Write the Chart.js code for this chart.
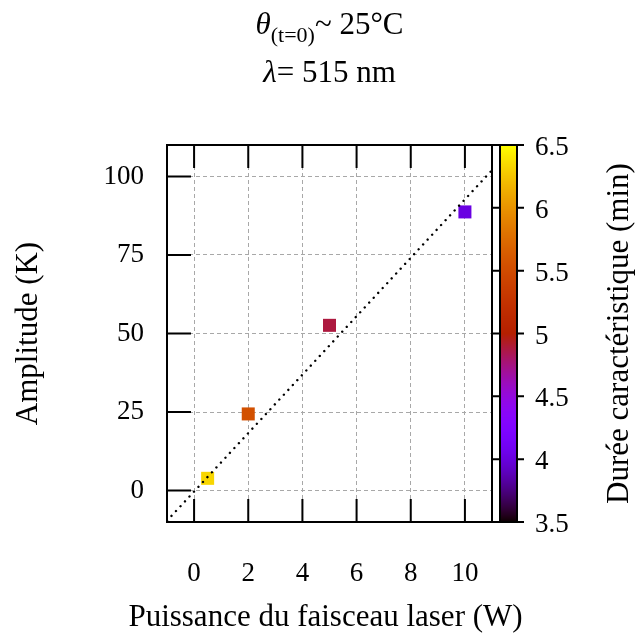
<!DOCTYPE html>
<html><head><meta charset="utf-8">
<script src="https://cdn.jsdelivr.net/npm/chart.js@4/dist/chart.umd.min.js"></script>
<style>html,body{margin:0;padding:0;background:#fff}canvas{display:block}</style>
</head><body>
<canvas id="c" width="635" height="636"></canvas>
<script>
// ---- data ----
const power = [0.5, 2, 5, 10];                 // W
const amplitude = [3.9, 24.4, 52.6, 88.7];     // K
const duration = [6.33, 5.54, 4.88, 4.02];     // min (colour)
const fitX = [-1, 11];
const fitY = [-9.6, 102.0];
const xTicks = [0, 2, 4, 6, 8, 10];
const yTicks = [0, 25, 50, 75, 100];
const cbTicks = [3.5, 4, 4.5, 5, 5.5, 6, 6.5];
const cbRange = [3.5, 6.5];
const xRange = [-1, 11];
const yRange = [-10, 110];
const xTitle = 'Puissance du faisceau laser (W)';
const yTitle = 'Amplitude (K)';
const cbTitle = 'Durée caractéristique (min)';

const FONT = '"Liberation Serif", "DejaVu Serif", serif';
const TICK = 27, TITLE = 31;

function palette(v) {
  const t = Math.min(1, Math.max(0, (v - cbRange[0]) / (cbRange[1] - cbRange[0])));
  const r = Math.sqrt(t), g = t * t * t, b = Math.max(0, Math.sin(2 * Math.PI * t));
  return `rgb(${Math.round(r * 255)},${Math.round(g * 255)},${Math.round(b * 255)})`;
}

const deco = {
  id: 'deco',
  afterDraw(chart) {
    const {ctx, chartArea: a, scales: {x, y, cb}} = chart;
    ctx.save();
    ctx.strokeStyle = '#000';
    ctx.lineWidth = 2;
    ctx.beginPath();
    xTicks.forEach(v => {
      const px = x.getPixelForValue(v);
      ctx.moveTo(px, a.bottom); ctx.lineTo(px, a.bottom - 23);
      ctx.moveTo(px, a.top); ctx.lineTo(px, a.top + 23);
    });
    yTicks.forEach(v => {
      const py = y.getPixelForValue(v);
      ctx.moveTo(a.left, py); ctx.lineTo(a.left + 24, py);
    });
    ctx.stroke();
    ctx.strokeRect(a.left, a.top, a.right - a.left, a.bottom - a.top);

    // colour bar
    const top = (cb && isFinite(cb.top)) ? cb.top : a.top;
    const bot = (cb && isFinite(cb.bottom)) ? cb.bottom : a.bottom;
    const cbPix = v => bot - (v - cbRange[0]) / (cbRange[1] - cbRange[0]) * (bot - top);
    const cx0 = a.right + 8, cx1 = a.right + 25;
    for (let py = Math.floor(top); py < bot; py++) {
      const v = cbRange[0] + (bot - (py + 0.5)) / (bot - top) * (cbRange[1] - cbRange[0]);
      ctx.fillStyle = palette(v);
      ctx.fillRect(cx0, py, cx1 - cx0, 1);
    }
    ctx.strokeRect(cx0, top, cx1 - cx0, bot - top);
    ctx.beginPath();
    cbTicks.forEach(v => {
      const py = cbPix(v);
      ctx.moveTo(a.right + 1, py); ctx.lineTo(cx0, py);
      ctx.moveTo(cx1, py); ctx.lineTo(cx1 + 7, py);
    });
    ctx.stroke();
    ctx.fillStyle = '#000';
    ctx.font = `${TICK}px ${FONT}`;
    ctx.textAlign = 'left';
    ctx.textBaseline = 'middle';
    cbTicks.forEach(v => ctx.fillText(String(v), cx1 + 18, cbPix(v) + 3));

    ctx.save();
    ctx.translate(620, (a.top + a.bottom) / 2);
    ctx.rotate(-Math.PI / 2);
    ctx.textAlign = 'center';
    ctx.font = `${TITLE}px ${FONT}`;
    ctx.fillText(cbTitle, 0, 0);
    ctx.restore();

    // x axis title
    ctx.textAlign = 'center';
    ctx.textBaseline = 'middle';
    ctx.font = `${TITLE}px ${FONT}`;
    ctx.fillText(xTitle, (a.left + a.right) / 2 - 4, 618);

    // title
    const cxT = (a.left + a.right) / 2;
    ctx.textBaseline = 'alphabetic';
    ctx.textAlign = 'left';
    const fMain = `${TITLE}px ${FONT}`, fIt = `italic ${TITLE}px ${FONT}`, fSub = `22px ${FONT}`;
    const parts = [
      {t: 'θ', f: fIt, dy: 0},
      {t: '(t=0)', f: fSub, dy: 8},
      {t: '~ 25°C', f: fMain, dy: 0}
    ];
    let w = 0;
    parts.forEach(p => { ctx.font = p.f; p.w = ctx.measureText(p.t).width; w += p.w; });
    let xx = cxT - w / 2;
    parts.forEach(p => { ctx.font = p.f; ctx.fillText(p.t, xx, 34 + p.dy); xx += p.w; });
    const parts2 = [
      {t: 'λ', f: fIt},
      {t: '= 515 nm', f: fMain}
    ];
    w = 0;
    parts2.forEach(p => { ctx.font = p.f; p.w = ctx.measureText(p.t).width; w += p.w; });
    xx = cxT - w / 2;
    parts2.forEach(p => { ctx.font = p.f; ctx.fillText(p.t, xx, 82); xx += p.w; });
    ctx.restore();
  }
};

new Chart(document.getElementById('c'), {
  type: 'scatter',
  data: {
    datasets: [
      {
        label: 'fit',
        data: fitX.map((v, i) => ({x: v, y: fitY[i]})),
        showLine: true,
        borderColor: '#000',
        borderWidth: 2.4,
        borderDash: [0.01, 6.6],
        borderCapStyle: 'round',
        pointRadius: 0,
        fill: false,
        order: 0
      },
      {
        label: 'mesures',
        data: power.map((p, i) => ({x: p, y: amplitude[i]})),
        pointStyle: 'rect',
        pointRadius: 9.2,
        pointHoverRadius: 9.2,
        backgroundColor: duration.map(palette),
        borderColor: duration.map(palette),
        borderWidth: 0,
        order: 1
      }
    ]
  },
  options: {
    responsive: false,
    animation: false,
    events: [],
    layout: {padding: {top: 145, right: 143, left: 0, bottom: 0}},
    plugins: {legend: {display: false}, tooltip: {enabled: false}, title: {display: false}},
    scales: {
      x: {
        type: 'linear', position: 'bottom', min: xRange[0], max: xRange[1],
        afterBuildTicks: s => { s.ticks = xTicks.map(v => ({value: v})); },
        afterFit: s => { s.height = 114; },
        grid: {color: '#a8a8a8', lineWidth: 1, drawTicks: false},
        border: {display: true, color: '#000', width: 2, dash: [4, 3]},
        ticks: {padding: 36, color: '#000', font: {family: FONT, size: TICK}, maxRotation: 0},
        title: {display: false}
      },
      y: {
        type: 'linear', position: 'left', min: yRange[0], max: yRange[1],
        afterBuildTicks: s => { s.ticks = yTicks.map(v => ({value: v})); },
        afterFit: s => { s.width = 167; },
        grid: {color: '#a8a8a8', lineWidth: 1, drawTicks: false},
        border: {display: true, color: '#000', width: 2, dash: [4, 3]},
        ticks: {padding: 23, color: '#000', font: {family: FONT, size: TICK}},
        title: {display: true, text: yTitle, color: '#000',
                font: {family: FONT, size: TITLE, lineHeight: 1}, padding: {top: 13, bottom: 0}}
      },
      cb: {
        type: 'linear', position: 'right', display: false, min: cbRange[0], max: cbRange[1]
      }
    }
  },
  plugins: [deco]
});
</script>
</body></html>
